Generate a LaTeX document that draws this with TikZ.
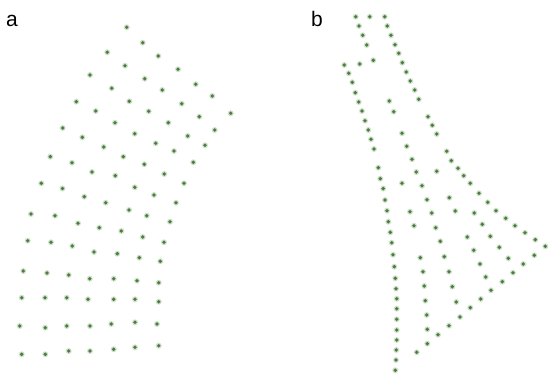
\documentclass[tikz,border=0pt]{standalone}
\usepackage{fontspec}
\setmainfont{Liberation Sans}
\definecolor{dotgreen}{HTML}{4F7A48}
\definecolor{dothalo}{HTML}{CFE3C8}

\begin{document}
\begin{tikzpicture}[
    x=1pt, y=-1pt,
    lbl/.style={anchor=base west, inner sep=0pt, font=\fontsize{21}{24}\selectfont},
    halo/.style={fill=dothalo},
    core/.style={fill=dotgreen}
]

\pgfmathsetmacro{\haloR}{3.0}
\pgfmathsetmacro{\coreR}{1.9}

\useasboundingbox (0,0) rectangle (548,374);

% Panel labels
\node[lbl] (labA) at (6,27) {a};
\node[lbl] (labB) at (311,27) {b};

% ---------------------------------------------------------
% PANEL A (bent grid)
% ---------------------------------------------------------
\begin{scope}
    \foreach \x/\y in {
        126.7/27.3, 142.7/42.7, 107.3/52.3, 158.3/56, 125/65.7, 178/69.3,
        90/75, 144.7/78.7, 111.7/88.3, 162.3/90, 195.7/84.3, 212.3/96,
        76.3/101.7, 129.3/101.3, 181.7/103.7, 95.7/111, 148.7/111.3, 230.7/113.3,
        199.3/116.7, 115/122.7, 168.3/122.7, 62.7/128, 214.7/130, 134.7/133.7,
        82.3/137.3, 187.7/136, 155.7/143.3, 205/145.3, 103.7/147, 174/151,
        50.3/156.7, 123.3/156.7, 72/162.7, 144.3/164.3, 193.3/162.3, 92/172,
        115.3/175.7, 164.3/174, 41.3/183.3, 62.5/188.5, 134.8/187.3, 184/183.3,
        84.3/196.7, 154/195, 105.7/202.7, 176/202.7, 129/210, 31/214,
        55/215.7, 146.7/215.7, 78/223.3, 170/221.7, 99.3/227.7, 121.3/231,
        142.7/237, 27.7/240.7, 51/242.3, 164/242.3, 72.3/246, 94/252,
        117.3/253.7, 139.3/257.7, 160.3/261.3,
        23.3/271, 47/273, 68.7/275, 89.7/278.7, 113.7/278.7, 137/280.7, 158.7/282.7,
        21.7/297.7, 45/297.7, 66.7/297.7, 88/299.3, 113.7/299.3, 135/299.3, 158.7/301.7,
        19.7/326, 45.3/327.7, 66.7/326, 90/326, 111.3/324, 135/322.3, 157/324,
        21.7/354.3, 45.3/354.3, 68.7/351, 90/351, 113.7/349.3, 135/347.3, 158.7/345.7} {
        \fill[halo] (\x,\y) circle (\haloR);
        \fill[core] (\x,\y) circle (\coreR);
    }
\end{scope}

% ---------------------------------------------------------
% PANEL B (branching strands)
% ---------------------------------------------------------
\begin{scope}
    \foreach \x/\y in {
        355.7/16.7, 369.7/16.7, 384.7/16.7, 359/26, 387.3/26, 362.7/35.3,
        391/35.3, 366.7/45, 395/44.7, 344.3/65, 359.7/64, 373.3/60.3,
        398.7/53.3, 402.3/62.7, 348.7/73.3, 406.3/72, 352.3/82.3, 410.3/81,
        355.3/92.7, 414.7/90, 358.7/102, 418.7/99.3, 389.3/101, 362/111,
        393.7/111.7, 365/120.7, 428/116.7, 432.3/125.3, 368.3/130, 436.7/134,
        402/133.3, 371/139.3, 406.7/146.3, 374/149, 446.7/151.3, 412/159.3,
        451.3/160.7, 458/168.3, 378.3/167.7, 416.3/172, 436.7/171.3, 463.7/175.7,
        380.3/178.7, 402/183.2, 422/185.8, 470.2/183.3, 383.2/188.6,
        385/200, 427/199.7, 449.3/197.7, 479/193.3, 487.7/202.3, 387/210.7,
        410/211.7, 431.7/213, 455.3/211, 474.3/213, 496/210.7, 388.3/221.7,
        414/225.7, 435.7/227.7, 482.3/224.3, 505.7/218.3, 515/225.7, 390.3/232.3,
        525/232.7, 391.7/242.7, 440.3/241.3, 467.3/237, 490.3/236.3, 535.3/239.7,
        545.3/246.3, 393/254.7, 499.3/247.3, 473.7/250.3, 534.3/255.3, 420.3/257.7,
        444.3/256.7, 508.3/258.3, 394.3/266.7, 480/264, 523.3/264, 423/271.7,
        449/271.7, 513/272.7, 395.3/278.3, 485.7/277, 502.3/281.7, 424.3/286,
        452.3/286.7, 396/288.7, 491/290.3, 396.7/298.7, 425.3/300.7, 456.3/302,
        480.7/299, 396.7/308.7, 470.3/307.7, 426.7/315, 460/317, 396.7/319.3,
        449/325.7, 396.7/330, 427.3/329.3, 438/334.7, 396.7/340, 427.3/343.7,
        396.3/350, 416.7/352.3, 396/360, 395.3/370.3} {
        \fill[halo] (\x,\y) circle (\haloR);
        \fill[core] (\x,\y) circle (\coreR);
    }
\end{scope}

\end{tikzpicture}
\end{document}
